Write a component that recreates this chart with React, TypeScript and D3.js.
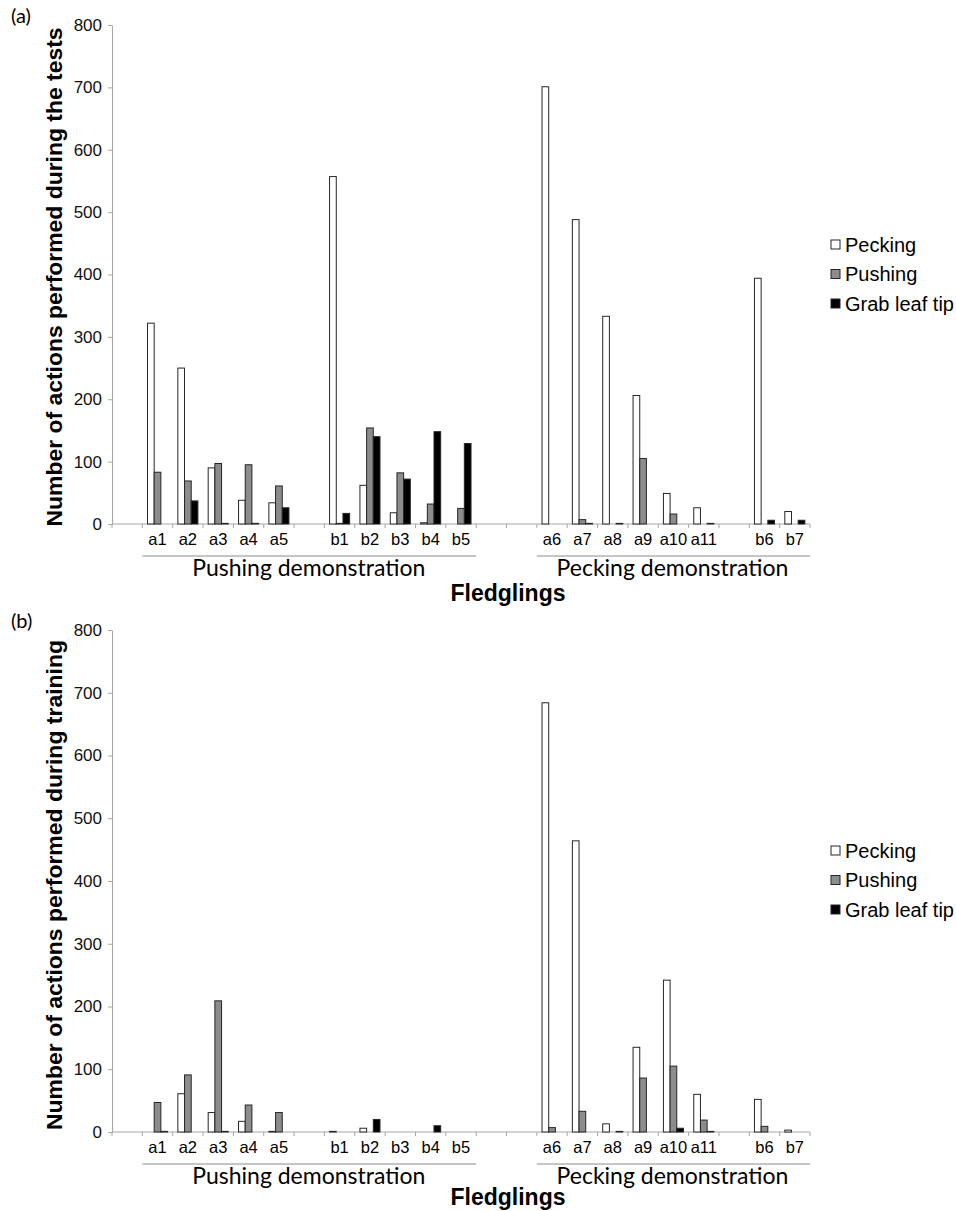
import * as React from 'react';
import * as d3 from 'd3';

// slots on the x axis, empty strings are the gaps between groups
const fledglings = ["", "a1", "a2", "a3", "a4", "a5", "", "b1", "b2", "b3", "b4", "b5", "", "", "a6", "a7", "a8", "a9", "a10", "a11", "", "b6", "b7"];
const series = ["Pecking", "Pushing", "Grab leaf tip"];
const seriesFill = ["#ffffff", "#8c8c8c", "#000000"];
const yTicks = [0, 100, 200, 300, 400, 500, 600, 700, 800];
const groupLabels = ["Pushing demonstration", "Pecking demonstration"];
const groupFirst = ["a1", "a6"];
const groupLast = ["b5", "b7"];

// (a) tests
const testsPecking = [null, 322, 250, 90, 38, 34, null, 557, 62, 18, 2, 0, null, null, 701, 488, 333, 206, 49, 26, null, 394, 20];
const testsPushing = [null, 83, 69, 97, 95, 61, null, 1, 154, 82, 32, 25, null, null, 0, 7, 0, 105, 16, 0, null, 0, 0];
const testsGrab = [null, 0, 37, 1, 1, 26, null, 17, 140, 72, 148, 129, null, null, 0, 1, 1, 0, 0, 1, null, 6, 6];

// (b) training
const trainingPecking = [null, 0, 61, 31, 17, 1, null, 1, 6, 0, 0, 0, null, null, 684, 464, 13, 135, 242, 60, null, 52, 3];
const trainingPushing = [null, 47, 91, 209, 43, 31, null, 0, 0, 0, 0, 0, null, null, 7, 33, 0, 86, 105, 19, null, 9, 0];
const trainingGrab = [null, 1, 0, 1, 0, 0, null, 0, 20, 0, 10, 0, null, null, 0, 0, 1, 0, 6, 1, null, 0, 0];

const axisColor = "#a6a6a6";
const sans = "Liberation Sans, Arial, sans-serif";
const calibriLike = "Lato, Open Sans, sans-serif";

function drawPanel(svg: any, p: any) {
    const x = d3.scaleBand<number>()
        .domain(d3.range(fledglings.length))
        .range([112, 810]);
    const xs = d3.scaleBand<number>()
        .domain([0, 1, 2])
        .range([0, x.bandwidth()])
        .paddingOuter(0.77);
    const y = d3.scaleLinear().domain([0, 800]).range([p.bottom, p.top]);

    const g = svg.append("g");

    g.append("text")
        .attr("x", 11)
        .attr("y", p.top - 2)
        .attr("font-family", calibriLike)
        .attr("font-size", 20)
        .text(p.letter);

    // y axis
    const yAxis = d3.axisLeft(y).tickValues(yTicks).tickSize(4).tickPadding(6).tickSizeOuter(0);
    const ya = g.append("g")
        .attr("transform", "translate(112,0)")
        .call(yAxis)
        .attr("font-family", sans)
        .attr("font-size", 17);
    ya.selectAll("path, line").attr("stroke", axisColor);
    ya.selectAll("text").attr("fill", "#111");

    g.append("text")
        .attr("transform", "translate(62," + p.titleCenter + ") rotate(-90)")
        .attr("text-anchor", "middle")
        .attr("textLength", p.titleLength)
        .attr("lengthAdjust", "spacingAndGlyphs")
        .attr("font-family", sans)
        .attr("font-weight", "bold")
        .attr("font-size", 22)
        .text(p.title);

    // x axis with ticks between the slots
    g.append("line")
        .attr("x1", 112).attr("x2", 810)
        .attr("y1", p.bottom).attr("y2", p.bottom)
        .attr("stroke", axisColor);
    const edges = d3.range(fledglings.length).map(i => x(i)).concat([810]);
    g.selectAll(".xtick")
        .data(edges)
        .enter()
        .append("line")
        .attr("x1", d => d).attr("x2", d => d)
        .attr("y1", p.bottom).attr("y2", p.bottom + 4)
        .attr("stroke", axisColor);
    g.selectAll(".xlab")
        .data(d3.range(fledglings.length))
        .enter()
        .append("text")
        .attr("x", i => x(i) + x.bandwidth() / 2)
        .attr("y", p.bottom + 21)
        .attr("text-anchor", "middle")
        .attr("font-family", sans)
        .attr("font-size", 16.5)
        .text(i => fledglings[i]);

    // bars
    const values = [p.pecking, p.pushing, p.grab];
    values.forEach(function(vals, s) {
        const idx = d3.range(vals.length).filter(i => vals[i] !== null && vals[i] > 0);
        g.selectAll(".bar" + s)
            .data(idx)
            .enter()
            .append("rect")
            .attr("x", i => x(i) + xs(s))
            .attr("y", i => y(vals[i]))
            .attr("width", xs.bandwidth())
            .attr("height", i => p.bottom - y(vals[i]))
            .attr("fill", seriesFill[s])
            .attr("stroke", "#262626")
            .attr("stroke-width", 1);
    });

    // group brackets
    groupLabels.forEach(function(label, k) {
        const x0 = x(fledglings.indexOf(groupFirst[k]));
        const x1 = x(fledglings.indexOf(groupLast[k])) + x.bandwidth();
        g.append("line")
            .attr("x1", x0).attr("x2", x1)
            .attr("y1", p.bottom + 32).attr("y2", p.bottom + 32)
            .attr("stroke", "#8c8c8c");
        g.append("text")
            .attr("x", (x0 + x1) / 2 + (k === 0 ? -0.5 : -1))
            .attr("y", p.bottom + 52)
            .attr("text-anchor", "middle")
            .attr("font-family", calibriLike)
            .attr("font-size", 23)
            .text(label);
    });

    g.append("text")
        .attr("x", 508)
        .attr("y", p.bottom + p.fledgeOffset)
        .attr("text-anchor", "middle")
        .attr("font-family", sans)
        .attr("font-weight", "bold")
        .attr("font-size", 23)
        .text("Fledglings");

    // legend
    const leg = g.selectAll(".legend")
        .data(series)
        .enter()
        .append("g")
        .attr("transform", (d, i) => "translate(831," + (p.legendTop + i * 29.5) + ")");
    leg.append("rect")
        .attr("x", 0).attr("y", -4.5)
        .attr("width", 9).attr("height", 9)
        .attr("fill", (d, i) => seriesFill[i])
        .attr("stroke", "#262626");
    leg.append("text")
        .attr("x", 14)
        .attr("dy", "0.36em")
        .attr("font-family", sans)
        .attr("font-size", 20)
        .text(d => d);
}

class App extends React.Component<any, any> {
    ref = React.createRef<SVGSVGElement>();

    componentDidMount() {
        this.createGraph();
    }

    createGraph() {
        const svg = d3.select(this.ref.current);
        svg.selectAll("*").remove();
        drawPanel(svg, {
            letter: "(a)", top: 25, bottom: 524,
            title: "Number of actions performed during the tests", titleCenter: 277, titleLength: 499,
            pecking: testsPecking, pushing: testsPushing, grab: testsGrab,
            legendTop: 244.5, fledgeOffset: 77
        });
        drawPanel(svg, {
            letter: "(b)", top: 630, bottom: 1132,
            title: "Number of actions performed during training", titleCenter: 885, titleLength: 490,
            pecking: trainingPecking, pushing: trainingPushing, grab: trainingGrab,
            legendTop: 850.5, fledgeOffset: 73
        });
    }

    render() {
        return (
            <svg ref={this.ref} width={956} height={1211}
                 style={{position: "absolute", left: 0, top: 0, background: "#fff"}} />
        );
    }
}

export default App;
